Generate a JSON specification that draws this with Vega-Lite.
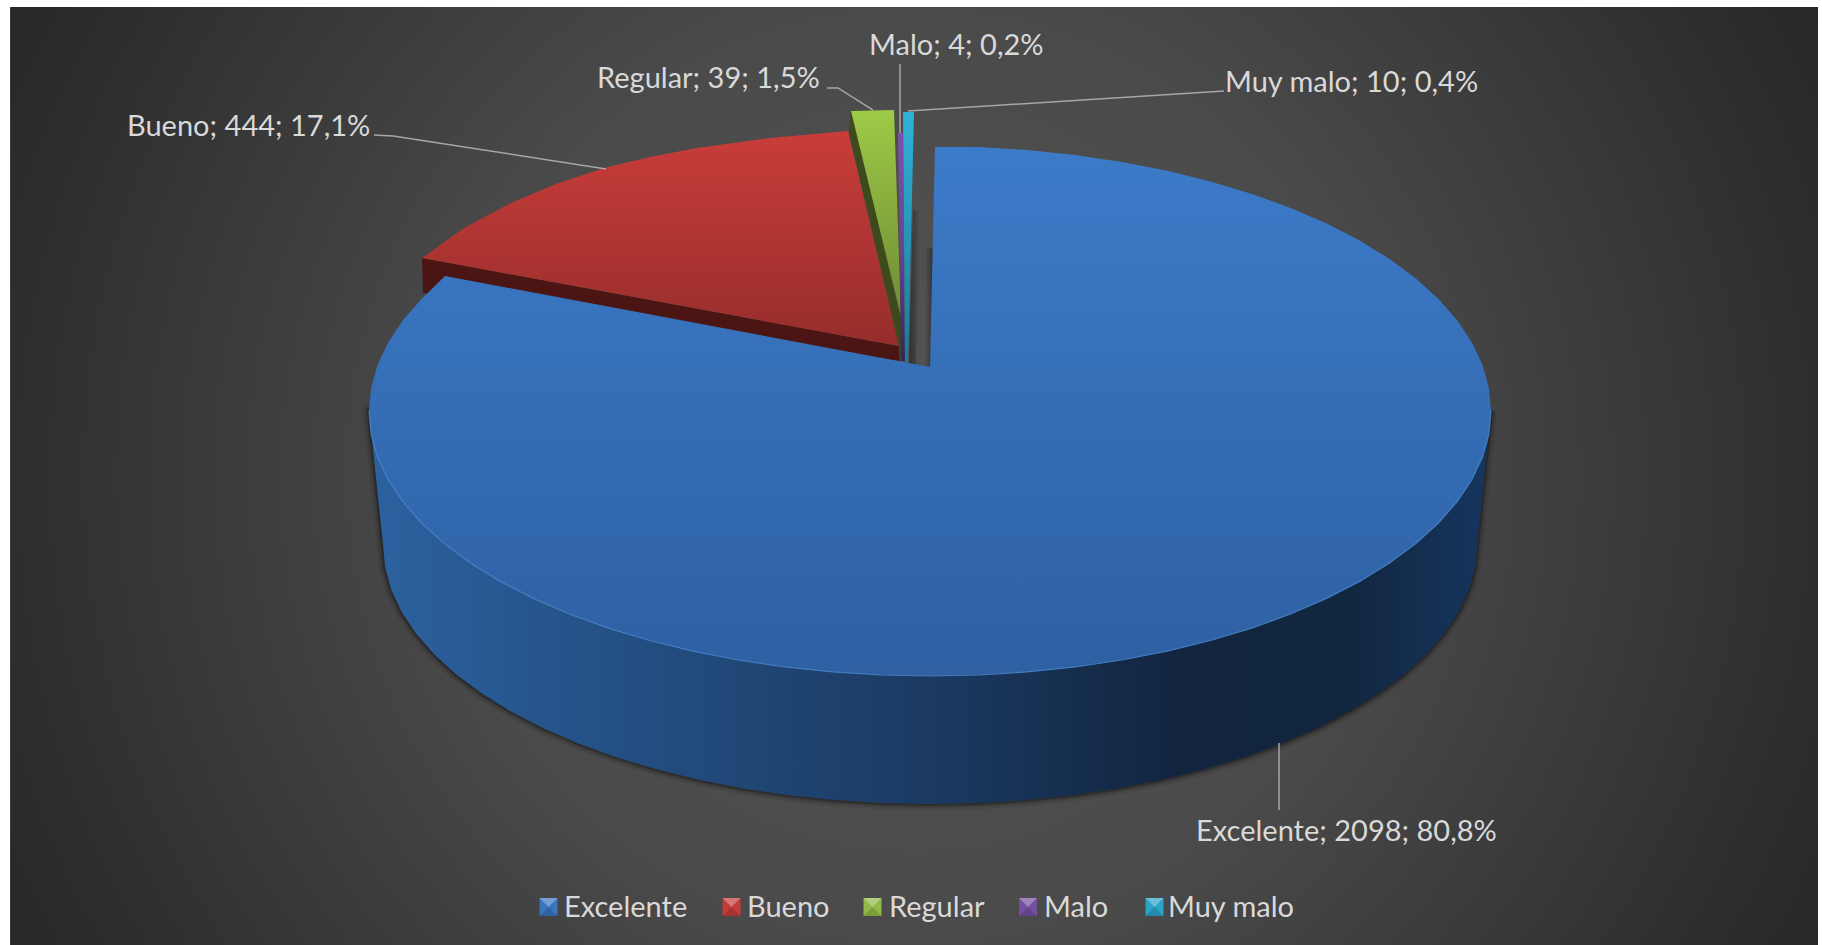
{
"$schema":"https://vega.github.io/schema/vega-lite/v6.json",
"width":1822,"height":945,"padding":0,
"autosize":{"type":"fit","contains":"padding"},
"background":"#ffffff",
"view":{"stroke":null},
"config":{"text":{"font":"Lato"}},
"datasets":{
"panel":[{"x":-1.6399,"x2":1.5829,"y":-1.7273,"y2":1.4955}],
"margins":[{"x":-1.7,"x2":-1.6399,"y":-1,"y2":0.8},{"x":1.5829,"x2":1.62,"y":-1,"y2":0.8},{"x":-1.7,"x2":1.62,"y":0.7201,"y2":0.8}],
"categories":[
{"category":"Excelente","count":2098,"share":"80,8%","label":"Excelente; 2098; 80,8%","x":0.4742,"y":-0.7665},
{"category":"Bueno","count":444,"share":"17,1%","label":"Bueno; 444; 17,1%","x":-1.4314,"y":0.4902},
{"category":"Regular","count":39,"share":"1,5%","label":"Regular; 39; 1,5%","x":-0.5936,"y":0.5758},
{"category":"Malo","count":4,"share":"0,2%","label":"Malo; 4; 0,2%","x":-0.1087,"y":0.6346},
{"category":"Muy malo","count":10,"share":"0,4%","label":"Muy malo; 10; 0,4%","x":0.5258,"y":0.5686}],
"swatches":[{"category":"Excelente","x":-0.68,"y":-0.8841},{"category":"Bueno","x":-0.3538,"y":-0.8841},{"category":"Regular","x":-0.1025,"y":-0.8841},{"category":"Malo","x":0.1747,"y":-0.8841},{"category":"Muy malo","x":0.4002,"y":-0.8841}],
"leaders":[
{"label":"Excelente","i":0,"x":0.6221,"y":-0.5918},{"label":"Excelente","i":1,"x":0.6221,"y":-0.7112},
{"label":"Bueno","i":0,"x":-0.9911,"y":0.492},{"label":"Bueno","i":1,"x":-0.9572,"y":0.4902},{"label":"Bueno","i":2,"x":-0.5775,"y":0.4314},
{"label":"Regular","i":0,"x":-0.1836,"y":0.5758},{"label":"Regular","i":1,"x":-0.164,"y":0.5758},{"label":"Regular","i":2,"x":-0.1016,"y":0.5365},
{"label":"Malo","i":0,"x":-0.0535,"y":0.6185},{"label":"Malo","i":1,"x":-0.0535,"y":0.4955},
{"label":"Muy malo","i":0,"x":-0.0392,"y":0.5348},{"label":"Muy malo","i":1,"x":0.5241,"y":0.5704}],
"gapLeft":[{"i":0,"x":-0.0303,"y":0.3583},{"i":1,"x":-0.0178,"y":0.3583},{"i":2,"x":-0.025,"y":0.082},{"i":3,"x":-0.0374,"y":0.0856}],
"gapRight":[{"i":0,"x":-0.0071,"y":0.2906},{"i":1,"x":0.0053,"y":0.2906},{"i":2,"x":0.0018,"y":0.0784},{"i":3,"x":-0.0089,"y":0.0802}],
"buenoSide":[{"i":0,"x":-0.9055,"y":0.2727},{"i":1,"x":-0.0553,"y":0.1159},{"i":2,"x":-0.0535,"y":0.0891},{"i":3,"x":-0.9037,"y":0.2103}],
"buenoTop":[{"i":0,"x":-0.0553,"y":0.1159},{"i":1,"x":-0.9055,"y":0.2727},{"i":2,"x":-0.8307,"y":0.3262},{"i":3,"x":-0.7469,"y":0.3708},{"i":4,"x":-0.6667,"y":0.4046},{"i":5,"x":-0.5811,"y":0.4332},{"i":6,"x":-0.4991,"y":0.4528},{"i":7,"x":-0.4153,"y":0.4688},{"i":8,"x":-0.2852,"y":0.4866},{"i":9,"x":-0.1462,"y":0.4991}],
"regularSide":[{"i":0,"x":-0.1408,"y":0.5348},{"i":1,"x":-0.0517,"y":0.1676},{"i":2,"x":-0.0517,"y":0.0909},{"i":3,"x":-0.0553,"y":0.1159},{"i":4,"x":-0.1444,"y":0.4973}],
"regularTop":[{"i":0,"x":-0.1408,"y":0.5348},{"i":1,"x":-0.0642,"y":0.5365},{"i":2,"x":-0.0517,"y":0.1676}],
"maloTop":[{"i":0,"x":-0.057,"y":0.4955},{"i":1,"x":-0.0481,"y":0.4955},{"i":2,"x":-0.0446,"y":0.0891},{"i":3,"x":-0.0517,"y":0.0891}],
"muyMaloTop":[{"i":0,"x":-0.0481,"y":0.533},{"i":1,"x":-0.0285,"y":0.533},{"i":2,"x":-0.0392,"y":0.0856},{"i":3,"x":-0.0446,"y":0.0856}],
"excelenteWall":[
{"i":0,"x":1,"y":0},{"i":1,"x":0.9962,"y":-0.0412},{"i":2,"x":0.9848,"y":-0.082},{"i":3,"x":0.9659,"y":-0.1223},{"i":4,"x":0.9397,"y":-0.1616},{"i":5,"x":0.9063,"y":-0.1996},{"i":6,"x":0.866,"y":-0.2362},{"i":7,"x":0.8192,"y":-0.271},{"i":8,"x":0.766,"y":-0.3037},{"i":9,"x":0.7071,"y":-0.334},{"i":10,"x":0.6428,"y":-0.3619},{"i":11,"x":0.5736,"y":-0.387},{"i":12,"x":0.5,"y":-0.4091},{"i":13,"x":0.4226,"y":-0.4281},{"i":14,"x":0.342,"y":-0.4439},{"i":15,"x":0.2588,"y":-0.4563},{"i":16,"x":0.1736,"y":-0.4652},{"i":17,"x":0.0872,"y":-0.4706},{"i":18,"x":0,"y":-0.4724},
{"i":19,"x":-0.0872,"y":-0.4706},{"i":20,"x":-0.1736,"y":-0.4652},{"i":21,"x":-0.2588,"y":-0.4563},{"i":22,"x":-0.342,"y":-0.4439},{"i":23,"x":-0.4226,"y":-0.4281},{"i":24,"x":-0.5,"y":-0.4091},{"i":25,"x":-0.5736,"y":-0.387},{"i":26,"x":-0.6428,"y":-0.3619},{"i":27,"x":-0.7071,"y":-0.334},{"i":28,"x":-0.766,"y":-0.3037},{"i":29,"x":-0.8192,"y":-0.271},{"i":30,"x":-0.866,"y":-0.2362},{"i":31,"x":-0.9063,"y":-0.1996},{"i":32,"x":-0.9397,"y":-0.1616},{"i":33,"x":-0.9659,"y":-0.1223},{"i":34,"x":-0.9848,"y":-0.082},{"i":35,"x":-0.9962,"y":-0.0412},{"i":36,"x":-1,"y":0},
{"i":37,"x":-0.975,"y":-0.2389},{"i":38,"x":-0.9713,"y":-0.2792},{"i":39,"x":-0.9602,"y":-0.3191},{"i":40,"x":-0.9418,"y":-0.3584},{"i":41,"x":-0.9162,"y":-0.3968},{"i":42,"x":-0.8836,"y":-0.434},{"i":43,"x":-0.8444,"y":-0.4698},{"i":44,"x":-0.7987,"y":-0.5037},{"i":45,"x":-0.7469,"y":-0.5357},{"i":46,"x":-0.6894,"y":-0.5654},{"i":47,"x":-0.6267,"y":-0.5926},{"i":48,"x":-0.5593,"y":-0.6171},{"i":49,"x":-0.4875,"y":-0.6387},{"i":50,"x":-0.412,"y":-0.6573},{"i":51,"x":-0.3335,"y":-0.6728},{"i":52,"x":-0.2523,"y":-0.6848},{"i":53,"x":-0.1693,"y":-0.6936},{"i":54,"x":-0.085,"y":-0.6988},{"i":55,"x":0,"y":-0.7006},
{"i":56,"x":0.085,"y":-0.6988},{"i":57,"x":0.1693,"y":-0.6936},{"i":58,"x":0.2523,"y":-0.6848},{"i":59,"x":0.3335,"y":-0.6728},{"i":60,"x":0.412,"y":-0.6573},{"i":61,"x":0.4875,"y":-0.6387},{"i":62,"x":0.5593,"y":-0.6171},{"i":63,"x":0.6267,"y":-0.5926},{"i":64,"x":0.6894,"y":-0.5654},{"i":65,"x":0.7469,"y":-0.5357},{"i":66,"x":0.7987,"y":-0.5037},{"i":67,"x":0.8444,"y":-0.4698},{"i":68,"x":0.8836,"y":-0.434},{"i":69,"x":0.9162,"y":-0.3968},{"i":70,"x":0.9418,"y":-0.3584},{"i":71,"x":0.9602,"y":-0.3191},{"i":72,"x":0.9713,"y":-0.2792},{"i":73,"x":0.975,"y":-0.2389},{"i":74,"x":1,"y":0}],
"excelenteTop":[
{"i":0,"x":0,"y":0.0784},{"i":1,"x":0.0089,"y":0.4706},{"i":2,"x":0.0872,"y":0.4706},{"i":3,"x":0.1736,"y":0.4652},{"i":4,"x":0.2588,"y":0.4563},{"i":5,"x":0.342,"y":0.4439},{"i":6,"x":0.4226,"y":0.4281},{"i":7,"x":0.5,"y":0.4091},{"i":8,"x":0.5736,"y":0.387},{"i":9,"x":0.6428,"y":0.3619},{"i":10,"x":0.7071,"y":0.334},{"i":11,"x":0.766,"y":0.3037},{"i":12,"x":0.8192,"y":0.271},{"i":13,"x":0.866,"y":0.2362},{"i":14,"x":0.9063,"y":0.1996},{"i":15,"x":0.9397,"y":0.1616},{"i":16,"x":0.9659,"y":0.1223},{"i":17,"x":0.9848,"y":0.082},{"i":18,"x":0.9962,"y":0.0412},
{"i":19,"x":1,"y":0},{"i":20,"x":0.9962,"y":-0.0412},{"i":21,"x":0.9848,"y":-0.082},{"i":22,"x":0.9659,"y":-0.1223},{"i":23,"x":0.9397,"y":-0.1616},{"i":24,"x":0.9063,"y":-0.1996},{"i":25,"x":0.866,"y":-0.2362},{"i":26,"x":0.8192,"y":-0.271},{"i":27,"x":0.766,"y":-0.3037},{"i":28,"x":0.7071,"y":-0.334},{"i":29,"x":0.6428,"y":-0.3619},{"i":30,"x":0.5736,"y":-0.387},{"i":31,"x":0.5,"y":-0.4091},{"i":32,"x":0.4226,"y":-0.4281},{"i":33,"x":0.342,"y":-0.4439},{"i":34,"x":0.2588,"y":-0.4563},{"i":35,"x":0.1736,"y":-0.4652},{"i":36,"x":0.0872,"y":-0.4706},{"i":37,"x":0,"y":-0.4724},
{"i":38,"x":-0.0872,"y":-0.4706},{"i":39,"x":-0.1736,"y":-0.4652},{"i":40,"x":-0.2588,"y":-0.4563},{"i":41,"x":-0.342,"y":-0.4439},{"i":42,"x":-0.4226,"y":-0.4281},{"i":43,"x":-0.5,"y":-0.4091},{"i":44,"x":-0.5736,"y":-0.387},{"i":45,"x":-0.6428,"y":-0.3619},{"i":46,"x":-0.7071,"y":-0.334},{"i":47,"x":-0.766,"y":-0.3037},{"i":48,"x":-0.8192,"y":-0.271},{"i":49,"x":-0.866,"y":-0.2362},{"i":50,"x":-0.9063,"y":-0.1996},{"i":51,"x":-0.9397,"y":-0.1616},{"i":52,"x":-0.9659,"y":-0.1223},{"i":53,"x":-0.9848,"y":-0.082},{"i":54,"x":-0.9962,"y":-0.0412},{"i":55,"x":-1,"y":0},
{"i":56,"x":-0.9962,"y":0.0412},{"i":57,"x":-0.9848,"y":0.082},{"i":58,"x":-0.9659,"y":0.1223},{"i":59,"x":-0.9397,"y":0.1616},{"i":60,"x":-0.9063,"y":0.1996},{"i":61,"x":-0.8645,"y":0.2406}]
},
"encoding":{
"x":{"field":"x","type":"quantitative","axis":null,"scale":{"domain":[-1.6578,1.59],"nice":false,"zero":false}},
"y":{"field":"y","type":"quantitative","axis":null,"scale":{"domain":[-0.9519,0.7326],"nice":false,"zero":false}},
"order":{"field":"i","type":"quantitative"}
},
"layer":[
{"data":{"name":"panel"},
 "mark":{"type":"rect","clip":true,"fill":{"gradient":"radial","x1":0.5,"y1":0.5,"x2":0.5,"y2":0.5,"r1":0,"r2":0.6,"stops":[{"offset":0,"color":"#545454"},{"offset":0.43,"color":"#4a4a4a"},{"offset":0.83,"color":"#2e2e2e"},{"offset":1,"color":"#242424"}]}},
 "encoding":{"x2":{"field":"x2"},"y2":{"field":"y2"}}},
{"data":{"name":"margins"},"mark":{"type":"rect","clip":true,"fill":"#ffffff"},"encoding":{"x2":{"field":"x2"},"y2":{"field":"y2"}}},
{"data":{"name":"excelenteWall"},"mark":{"type":"line","stroke":"#000000","strokeWidth":13,"strokeOpacity":0.07,"strokeJoin":"round"}},
{"data":{"name":"excelenteWall"},"mark":{"type":"line","stroke":"#000000","strokeWidth":8,"strokeOpacity":0.13,"strokeJoin":"round"}},
{"data":{"name":"excelenteWall"},"mark":{"type":"line","stroke":"#000000","strokeWidth":4,"strokeOpacity":0.25,"strokeJoin":"round"}},
{"data":{"name":"gapLeft"},"mark":{"type":"line","strokeWidth":0,"fill":{"gradient":"linear","x1":0,"y1":0,"x2":1,"y2":0,"stops":[{"offset":0,"color":"#303030"},{"offset":1,"color":"#505050"}]}}},
{"data":{"name":"gapRight"},"mark":{"type":"line","strokeWidth":0,"fill":{"gradient":"linear","x1":0,"y1":0,"x2":1,"y2":0,"stops":[{"offset":0,"color":"#505050"},{"offset":1,"color":"#333333"}]}}},
{"data":{"name":"buenoSide"},"mark":{"type":"line","strokeWidth":0,"fill":"#4a1512"}},
{"data":{"name":"buenoTop"},"mark":{"type":"line","strokeWidth":0,"fill":{"gradient":"linear","x1":0,"y1":0,"x2":0,"y2":1,"stops":[{"offset":0,"color":"#c93d3a"},{"offset":1,"color":"#952d2b"}]}}},
{"data":{"name":"regularSide"},"mark":{"type":"line","strokeWidth":0,"fill":"#3c4a1c"}},
{"data":{"name":"regularTop"},"mark":{"type":"line","strokeWidth":0,"fill":{"gradient":"linear","x1":0,"y1":0,"x2":0,"y2":1,"stops":[{"offset":0,"color":"#9dca46"},{"offset":1,"color":"#6f8b33"}]}}},
{"data":{"name":"maloTop"},"mark":{"type":"line","strokeWidth":0,"fill":{"gradient":"linear","x1":0,"y1":0,"x2":0,"y2":1,"stops":[{"offset":0,"color":"#7d52aa"},{"offset":0.5,"color":"#6a4490"},{"offset":1,"color":"#33255a"}]}}},
{"data":{"name":"muyMaloTop"},"mark":{"type":"line","strokeWidth":0,"fill":{"gradient":"linear","x1":0,"y1":0,"x2":0,"y2":1,"stops":[{"offset":0,"color":"#30b2da"},{"offset":1,"color":"#1c7a96"}]}}},
{"data":{"name":"excelenteWall"},"mark":{"type":"line","strokeWidth":0,"fill":{"gradient":"linear","x1":0,"y1":0,"x2":1,"y2":0,"stops":[{"offset":0,"color":"#2c62a0"},{"offset":0.25,"color":"#234d80"},{"offset":0.5,"color":"#1b3a62"},{"offset":0.72,"color":"#11253f"},{"offset":0.87,"color":"#11263f"},{"offset":1,"color":"#16365f"}]}}},
{"data":{"name":"excelenteTop"},"mark":{"type":"line","strokeWidth":0,"fill":{"gradient":"linear","x1":0,"y1":0,"x2":0,"y2":1,"stops":[{"offset":0,"color":"#3c7bc9"},{"offset":1,"color":"#2e60a2"}]}}},
{"data":{"name":"excelenteWall"},"transform":[{"filter":"datum.i <= 36"}],"mark":{"type":"line","stroke":"#4a88d2","strokeWidth":1.2,"strokeOpacity":0.8}},
{"data":{"name":"leaders"},"mark":{"type":"line","stroke":"#a6a6a6","strokeWidth":1.5},"encoding":{"detail":{"field":"label"}}},
{"data":{"name":"categories"},"mark":{"type":"text","align":"left","baseline":"alphabetic","font":"Lato","fontSize":29,"fill":"#d9d9d9"},"encoding":{"text":{"field":"label"}}},
{"data":{"name":"swatches"},"mark":{"type":"point","filled":true,"shape":"square","size":324,"opacity":1},
 "encoding":{"color":{"field":"category","type":"nominal","scale":{"domain":["Excelente","Bueno","Regular","Malo","Muy malo"],"range":["#3a75bf","#c43c39","#93b947","#7650a0","#2aa3c8"]},
 "legend":{"title":null,"orient":"none","legendX":535,"legendY":893,"direction":"horizontal","columns":5,"symbolType":"square","symbolSize":324,"symbolOpacity":0,"symbolStrokeWidth":0,"labelFont":"Lato","labelFontSize":29,"labelColor":"#d9d9d9","labelOffset":0,"columnPadding":30,"padding":0}}}},
{"data":{"name":"swatches"},"mark":{"type":"point","filled":true,"shape":"M-1,-1L1,-1L0,0Z","size":324,"fill":"#ffffff","opacity":0.3}},
{"data":{"name":"swatches"},"mark":{"type":"point","filled":true,"shape":"M-1,1L1,1L0,0Z","size":324,"fill":"#000000","opacity":0.15}}
]
}
